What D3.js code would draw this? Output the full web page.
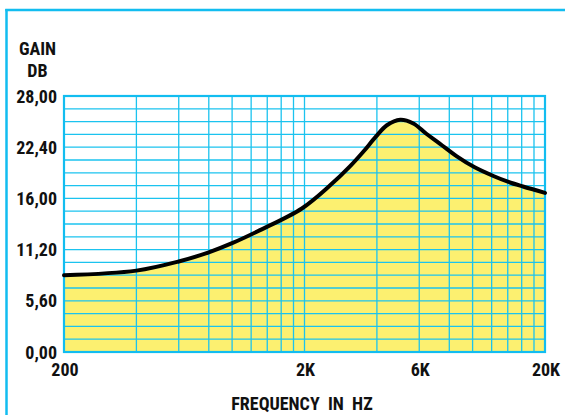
<!DOCTYPE html>
<html>
<head>
<meta charset="utf-8">
<script src="https://cdn.jsdelivr.net/npm/d3@7"></script>
<style>
html,body{margin:0;padding:0;background:#fff;}
svg{display:block;}
text{font-family:"Liberation Sans Narrow","Roboto Condensed","Arial Narrow",sans-serif;font-weight:bold;fill:#111;}
</style>
</head>
<body>
<script>
// Data
const freqs = [200, 400, 600, 800, 1000, 1300, 1950, 2550, 3090, 3510, 3960, 4400, 5000, 5670, 6400, 7300, 8600, 10200, 12200, 14100, 16200, 20000];
const gains = [8.4, 8.9, 9.9, 10.9, 11.9, 13.3, 15.7, 18.2, 20.3, 21.9, 23.55, 24.8, 25.4, 25.0, 23.9, 22.8, 21.4, 20.2, 19.25, 18.6, 18.1, 17.4];
const yTickValues = [0, 5.6, 11.2, 16.8, 22.4, 28];
const yTickLabels = ["0,00", "5,60", "11,20", "16,00", "22,40", "28,00"];
const xTickValues = [200, 2000, 6000, 20000];
const xTickLabels = ["200", "2K", "6K", "20K"];
const xGridValues = [400, 600, 800, 1000, 1200, 1400, 1600, 1800, 2000, 4000, 6000, 8000, 10000, 12000, 14000, 16000, 18000];
const yGridValues = d3.range(1, 20).map(i => i * 1.4);

const W = 565, H = 415;
const pL = 64, pR = 545, pT = 96, pB = 352;
const grid = "#1bc3ef", frameCol = "#12bdf0";

const svg = d3.select("body").append("svg").attr("width", W).attr("height", H);

// outer frame (left and top edges)
svg.append("line").attr("x1", 6.5).attr("x2", 6.5).attr("y1", 9).attr("y2", H)
  .attr("stroke", frameCol).attr("stroke-width", 2.5);
svg.append("line").attr("x1", 5.25).attr("x2", W).attr("y1", 10).attr("y2", 10)
  .attr("stroke", frameCol).attr("stroke-width", 2.5);

const x = d3.scaleLog().domain([200, 20000]).range([pL, pR]);
const y = d3.scaleLinear().domain([0, 28]).range([pB, pT]);

const pts = freqs.map((f, i) => [f, gains[i]]);
const curve = d3.curveCatmullRom.alpha(0.5);

// area fill
svg.append("path").datum(pts)
  .attr("d", d3.area().x(d => x(d[0])).y0(y(0)).y1(d => y(d[1])).curve(curve))
  .attr("fill", "#fcf070");

// grid
svg.append("g").selectAll("line").data(yGridValues).join("line")
  .attr("x1", pL).attr("x2", pR).attr("y1", d => y(d)).attr("y2", d => y(d))
  .attr("stroke", grid).attr("stroke-width", 1.3);
svg.append("g").selectAll("line").data(xGridValues).join("line")
  .attr("x1", d => x(d)).attr("x2", d => x(d)).attr("y1", pT).attr("y2", pB)
  .attr("stroke", grid).attr("stroke-width", 1.3);

// plot border
svg.append("rect").attr("x", pL).attr("y", pT).attr("width", pR - pL).attr("height", pB - pT)
  .attr("fill", "none").attr("stroke", frameCol).attr("stroke-width", 2.2);

// curve
svg.append("path").datum(pts)
  .attr("d", d3.line().x(d => x(d[0])).y(d => y(d[1])).curve(curve))
  .attr("fill", "none").attr("stroke", "#000").attr("stroke-width", 4)
  .attr("stroke-linecap", "round");

// y tick labels
svg.append("g").selectAll("text").data(yTickValues).join("text")
  .attr("x", 57).attr("y", d => y(d) + 6.5).attr("text-anchor", "end")
  .attr("font-size", 18).text((d, i) => yTickLabels[i]);

// x tick labels
svg.append("g").selectAll("text").data(xTickValues).join("text")
  .attr("x", d => x(d) + 1).attr("y", 376).attr("text-anchor", "middle")
  .attr("font-size", 18).text((d, i) => xTickLabels[i]);

// axis titles
svg.append("text").attr("x", 37.5).attr("y", 55).attr("text-anchor", "middle").attr("font-size", 18).text("GAIN");
svg.append("text").attr("x", 37.5).attr("y", 77).attr("text-anchor", "middle").attr("font-size", 18).text("DB");
svg.append("text").attr("x", 302).attr("y", 410).attr("text-anchor", "middle").attr("font-size", 18)
  .style("white-space", "pre").text("FREQUENCY  IN  HZ");
</script>
</body>
</html>
